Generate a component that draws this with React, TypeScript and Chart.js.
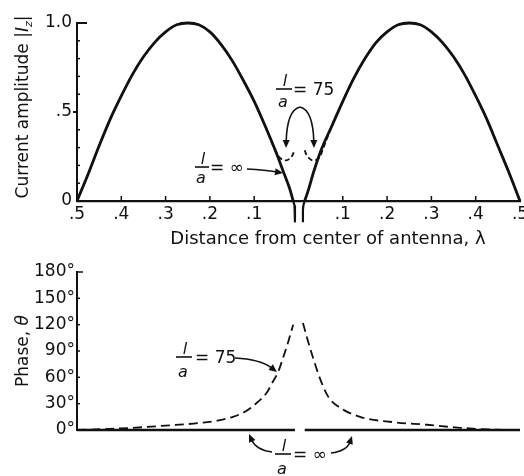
import React, { useEffect, useRef } from 'react';
import Chart from 'chart.js/auto';

const FONT = '"DejaVu Sans", "Liberation Sans", Arial, sans-serif';
const INK = '#111';

// ---------- Top panel: current amplitude |Iz| vs distance from centre (λ) ----------
// l/a = ∞ (solid)
const ampInfLeftZ = [-0.5, -0.475, -0.45, -0.425, -0.4, -0.375, -0.35, -0.325, -0.3, -0.275, -0.25, -0.225, -0.2, -0.175, -0.15, -0.125, -0.1, -0.075, -0.05, -0.035, -0.02, -0.012];
const ampInfLeftVal = [0, 0.15, 0.31, 0.46, 0.59, 0.71, 0.81, 0.89, 0.95, 0.99, 1.0, 0.99, 0.95, 0.88, 0.79, 0.68, 0.56, 0.42, 0.27, 0.17, 0.07, 0];
const ampInfRightZ = [0.014, 0.022, 0.035, 0.05, 0.075, 0.1, 0.125, 0.15, 0.175, 0.2, 0.225, 0.25, 0.275, 0.3, 0.325, 0.35, 0.375, 0.4, 0.425, 0.45, 0.475, 0.5];
const ampInfRightVal = [0, 0.06, 0.17, 0.28, 0.42, 0.56, 0.69, 0.8, 0.89, 0.95, 0.99, 1.0, 0.99, 0.95, 0.89, 0.81, 0.71, 0.59, 0.46, 0.31, 0.16, 0];
// feed terminals below the axis
const feedLeftZ = [-0.012, -0.009, -0.008, -0.008];
const feedLeftVal = [0, -0.025, -0.05, -0.12];
const feedRightZ = [0.014, 0.011, 0.01, 0.01];
const feedRightVal = [0, -0.025, -0.05, -0.12];
// l/a = 75 (dashed)
const amp75LeftZ = [-0.5, -0.475, -0.45, -0.425, -0.4, -0.375, -0.35, -0.325, -0.3, -0.275, -0.25, -0.225, -0.2, -0.175, -0.15, -0.125, -0.1, -0.075, -0.05, -0.043, -0.036, -0.028, -0.02, -0.013, -0.009];
const amp75LeftVal = [0, 0.15, 0.31, 0.46, 0.59, 0.71, 0.81, 0.89, 0.95, 0.99, 1.0, 0.99, 0.95, 0.88, 0.79, 0.68, 0.56, 0.42, 0.27, 0.245, 0.232, 0.228, 0.238, 0.26, 0.285];
const amp75RightZ = [0.014, 0.018, 0.025, 0.033, 0.041, 0.048, 0.055, 0.075, 0.1, 0.125, 0.15, 0.175, 0.2, 0.225, 0.25, 0.275, 0.3, 0.325, 0.35, 0.375, 0.4, 0.425, 0.45, 0.475, 0.5];
const amp75RightVal = [0.285, 0.26, 0.238, 0.228, 0.232, 0.245, 0.29, 0.42, 0.56, 0.69, 0.8, 0.89, 0.95, 0.99, 1.0, 0.99, 0.95, 0.89, 0.81, 0.71, 0.59, 0.46, 0.31, 0.16, 0];

const distTickVals = [-0.5, -0.4, -0.3, -0.2, -0.1, 0, 0.1, 0.2, 0.3, 0.4, 0.5];
const distTickLabels = ['.5', '.4', '.3', '.2', '.1', '', '.1', '.2', '.3', '.4', '.5'];
const distInnerTicks = [-0.4, -0.3, -0.2, -0.1, 0.1, 0.2, 0.3, 0.4];
const ampTickVals = [0, 0.5, 1];
const ampTickLabels = ['0', '.5', '1.0'];
const ampMinorTicks = [0.1, 0.2, 0.3, 0.4, 0.6, 0.7, 0.8, 0.9];

// ---------- Bottom panel: phase θ (degrees) ----------
const phase75LeftZ = [-0.5, -0.44, -0.374, -0.3, -0.222, -0.18, -0.148, -0.12, -0.094, -0.071, -0.058, -0.046, -0.035, -0.024, -0.012];
const phase75LeftDeg = [0, 1, 2.5, 5, 8, 11, 15, 21, 31, 43, 55, 66, 82, 99, 120];
const phase75RightZ = [0.01, 0.021, 0.033, 0.049, 0.067, 0.089, 0.139, 0.213, 0.29, 0.365, 0.44, 0.5];
const phase75RightDeg = [122, 102, 82, 58, 38, 27, 15, 9, 6, 2.5, 0.5, 0];
const phaseInfLeftZ = [-0.5, -0.008];
const phaseInfLeftDeg = [0, 0];
const phaseInfRightZ = [0.014, 0.5];
const phaseInfRightDeg = [0, 0];

const phaseTickVals = [0, 30, 60, 90, 120, 150, 180];
const phaseTickLabels = ['0°', '30°', '60°', '90°', '120°', '150°', '180°'];

const pts = (xs: number[], ys: number[]) => xs.map((x, i) => ({ x, y: ys[i] }));
const labelFor = (vals: number[], labels: string[]) => (v: any) => {
  const i = vals.findIndex((t) => Math.abs(t - Number(v)) < 1e-6);
  return i < 0 ? '' : labels[i];
};

const line = (data: any[], extra: any = {}) => ({
  data,
  borderColor: INK,
  backgroundColor: INK,
  pointRadius: 0,
  borderWidth: 2.8,
  fill: false,
  clip: false,
  cubicInterpolationMode: 'monotone',
  ...extra,
});

function arrowHead(ctx: CanvasRenderingContext2D, x: number, y: number, ang: number, len = 8, half = 3.5) {
  ctx.save();
  ctx.translate(x, y);
  ctx.rotate(ang);
  ctx.beginPath();
  ctx.moveTo(0, 0);
  ctx.lineTo(-len, -half);
  ctx.lineTo(-len, half);
  ctx.closePath();
  ctx.fill();
  ctx.restore();
}

function curveArrow(ctx: CanvasRenderingContext2D, x0: number, y0: number, cx: number, cy: number, x1: number, y1: number) {
  const ang = Math.atan2(y1 - cy, x1 - cx);
  const ex = x1 - Math.cos(ang) * 6;
  const ey = y1 - Math.sin(ang) * 6;
  ctx.beginPath();
  ctx.moveTo(x0, y0);
  ctx.quadraticCurveTo(cx, cy, ex, ey);
  ctx.stroke();
  arrowHead(ctx, x1, y1, ang);
}

function frac(ctx: CanvasRenderingContext2D, cx: number, barY: number, half: number, restX: number, rest: string, aOff = 18) {
  ctx.textAlign = 'center';
  ctx.textBaseline = 'alphabetic';
  ctx.font = `italic 16px ${FONT}`;
  ctx.fillText('l', cx + 1, barY - 3);
  ctx.fillText('a', cx - 1, barY + aOff);
  ctx.beginPath();
  ctx.moveTo(cx - half, barY);
  ctx.lineTo(cx + half, barY);
  ctx.stroke();
  ctx.textAlign = 'left';
  ctx.font = `17px ${FONT}`;
  ctx.fillText(rest, restX, barY + 6);
}

function rotatedTitle(ctx: CanvasRenderingContext2D, bx: number, cy: number, parts: { t: string; f: string; dy?: number }[]) {
  ctx.save();
  ctx.translate(bx, cy);
  ctx.rotate(-Math.PI / 2);
  ctx.textBaseline = 'alphabetic';
  ctx.textAlign = 'left';
  let total = 0;
  for (const p of parts) {
    ctx.font = p.f;
    total += ctx.measureText(p.t).width;
  }
  let x = -total / 2;
  for (const p of parts) {
    ctx.font = p.f;
    ctx.fillText(p.t, x, p.dy || 0);
    x += ctx.measureText(p.t).width;
  }
  ctx.restore();
}

const topDecor = {
  id: 'topDecor',
  afterDraw(chart: any) {
    const { ctx, scales } = chart;
    const xs = scales.x;
    const ys = scales.y;
    const ax = xs.left;
    const ay = ys.bottom;
    ctx.save();
    ctx.strokeStyle = INK;
    ctx.fillStyle = INK;
    ctx.lineWidth = 1.5;
    // inward ticks
    for (const v of distInnerTicks) {
      const px = xs.getPixelForValue(v);
      ctx.beginPath();
      ctx.moveTo(px, ay);
      ctx.lineTo(px, ay - 5);
      ctx.stroke();
    }
    for (const v of ampMinorTicks) {
      const py = ys.getPixelForValue(v);
      ctx.beginPath();
      ctx.moveTo(ax, py);
      ctx.lineTo(ax + 3, py);
      ctx.stroke();
    }
    ctx.lineWidth = 2;
    let py = ys.getPixelForValue(1);
    ctx.beginPath();
    ctx.moveTo(ax, py);
    ctx.lineTo(ax + 10, py);
    ctx.stroke();
    py = ys.getPixelForValue(0.5);
    ctx.beginPath();
    ctx.moveTo(ax - 4, py);
    ctx.lineTo(ax, py);
    ctx.stroke();

    // titles
    ctx.font = `18px ${FONT}`;
    ctx.textAlign = 'center';
    ctx.textBaseline = 'alphabetic';
    ctx.fillText('Distance from center of antenna, λ', 328, 244);
    rotatedTitle(ctx, 28, 107, [
      { t: 'Current amplitude |', f: `17px ${FONT}` },
      { t: 'I', f: `italic 17px ${FONT}` },
      { t: 'z', f: `italic 11px ${FONT}`, dy: 4 },
      { t: '|', f: `17px ${FONT}` },
    ]);

    // annotations
    ctx.lineWidth = 1.6;
    frac(ctx, 284, 89, 8, 293, '= 75', 18);
    curveArrow(ctx, 300, 107, 287, 110, 286, 148);
    curveArrow(ctx, 300, 107, 313, 110, 314, 148);
    frac(ctx, 202, 167, 7, 210, '= ∞', 16);
    curveArrow(ctx, 247, 169, 265, 170, 283, 173);
    ctx.restore();
  },
};

const botDecor = {
  id: 'botDecor',
  afterDraw(chart: any) {
    const { ctx, scales } = chart;
    const ys = scales.y;
    const ax = scales.x.left;
    ctx.save();
    ctx.strokeStyle = INK;
    ctx.fillStyle = INK;
    ctx.lineWidth = 1.5;
    for (const v of phaseTickVals) {
      if (v === 0) continue;
      const py = ys.getPixelForValue(v);
      ctx.beginPath();
      ctx.moveTo(ax, py);
      ctx.lineTo(ax + (v === 180 ? 6 : 3), py);
      ctx.stroke();
    }
    rotatedTitle(ctx, 28, 351, [
      { t: 'Phase, ', f: `17px ${FONT}` },
      { t: 'θ', f: `italic 17px ${FONT}` },
    ]);
    ctx.lineWidth = 1.6;
    frac(ctx, 184, 357, 8, 195, '= 75', 20);
    curveArrow(ctx, 235, 358, 260, 359, 277, 372);
    frac(ctx, 283, 454, 8, 293, '= ∞', 20);
    curveArrow(ctx, 272, 452, 256, 450, 249, 434);
    curveArrow(ctx, 331, 453, 347, 451, 352, 436);
    ctx.restore();
  },
};

export default function App() {
  const topRef = useRef<HTMLCanvasElement>(null);
  const botRef = useRef<HTMLCanvasElement>(null);

  useEffect(() => {
    Chart.defaults.font.family = FONT;
    Chart.defaults.color = INK;

    const tickFont = { size: 17, family: FONT };

    const c1 = new Chart(topRef.current as HTMLCanvasElement, {
      type: 'line',
      data: {
        datasets: [
          line(pts(ampInfLeftZ, ampInfLeftVal), { label: 'l/a = ∞', order: 0 }),
          line(pts(ampInfRightZ, ampInfRightVal), { label: 'l/a = ∞ ', order: 0 }),
          line(pts(feedLeftZ, feedLeftVal), { label: 'feed L', order: 0, tension: 0, cubicInterpolationMode: 'default', borderWidth: 2.2 }),
          line(pts(feedRightZ, feedRightVal), { label: 'feed R', order: 0, tension: 0, cubicInterpolationMode: 'default', borderWidth: 2.2 }),
          line(pts(amp75LeftZ, amp75LeftVal), { label: 'l/a = 75', order: 1, borderWidth: 1.8, borderDash: [5, 3] }),
          line(pts(amp75RightZ, amp75RightVal), { label: 'l/a = 75 ', order: 1, borderWidth: 1.8, borderDash: [5, 3] }),
        ],
      },
      options: {
        responsive: false,
        animation: false,
        devicePixelRatio: 1,
        events: [],
        layout: { padding: { left: 0, right: 4, top: 23, bottom: 235 } },
        plugins: { legend: { display: false }, tooltip: { enabled: false } },
        scales: {
          x: {
            type: 'linear',
            min: -0.5,
            max: 0.5,
            grid: { display: false, drawTicks: false },
            border: { display: true, color: INK, width: 2.2 },
            ticks: { stepSize: 0.1, autoSkip: false, maxRotation: 0, padding: 3, font: tickFont, color: INK, callback: labelFor(distTickVals, distTickLabels) },
            afterFit: (s: any) => { s.height = 40; s.paddingLeft = 0; s.paddingRight = 0; },
          },
          y: {
            type: 'linear',
            min: 0,
            max: 1,
            grid: { display: false, drawTicks: false },
            border: { display: true, color: INK, width: 2 },
            ticks: { stepSize: 0.5, autoSkip: false, padding: 5, font: tickFont, color: INK, callback: labelFor(ampTickVals, ampTickLabels) },
            afterFit: (s: any) => { s.width = 77; s.paddingTop = 0; s.paddingBottom = 0; },
          },
        },
      } as any,
      plugins: [topDecor],
    });

    const c2 = new Chart(botRef.current as HTMLCanvasElement, {
      type: 'line',
      data: {
        datasets: [
          line(pts(phaseInfLeftZ, phaseInfLeftDeg), { label: 'l/a = ∞', order: 0, tension: 0, cubicInterpolationMode: 'default', borderWidth: 2.4 }),
          line(pts(phaseInfRightZ, phaseInfRightDeg), { label: 'l/a = ∞ ', order: 0, tension: 0, cubicInterpolationMode: 'default', borderWidth: 2.4 }),
          line(pts(phase75LeftZ, phase75LeftDeg), { label: 'l/a = 75', order: 1, borderWidth: 1.8, borderDash: [9, 5] }),
          line(pts(phase75RightZ, phase75RightDeg), { label: 'l/a = 75 ', order: 1, borderWidth: 1.8, borderDash: [9, 5] }),
        ],
      },
      options: {
        responsive: false,
        animation: false,
        devicePixelRatio: 1,
        events: [],
        layout: { padding: { left: 0, right: 4, top: 272, bottom: 46 } },
        plugins: { legend: { display: false }, tooltip: { enabled: false } },
        scales: {
          x: {
            type: 'linear',
            min: -0.5,
            max: 0.5,
            grid: { display: false, drawTicks: false },
            border: { display: false },
            ticks: { display: false },
            afterFit: (s: any) => { s.height = 0; s.paddingLeft = 0; s.paddingRight = 0; },
          },
          y: {
            type: 'linear',
            min: 0,
            max: 180,
            grid: { display: false, drawTicks: false },
            border: { display: true, color: INK, width: 2 },
            ticks: { stepSize: 30, autoSkip: false, padding: 2, font: tickFont, color: INK, callback: labelFor(phaseTickVals, phaseTickLabels) },
            afterFit: (s: any) => { s.width = 77; s.paddingTop = 0; s.paddingBottom = 0; },
          },
        },
      } as any,
      plugins: [botDecor],
    });

    return () => {
      c1.destroy();
      c2.destroy();
    };
  }, []);

  return (
    <div style={{ position: 'fixed', left: 0, top: 0, width: 524, height: 476, background: '#fff' }}>
      <canvas ref={topRef} width={524} height={476} style={{ position: 'absolute', left: 0, top: 0 }} />
      <canvas ref={botRef} width={524} height={476} style={{ position: 'absolute', left: 0, top: 0 }} />
    </div>
  );
}
